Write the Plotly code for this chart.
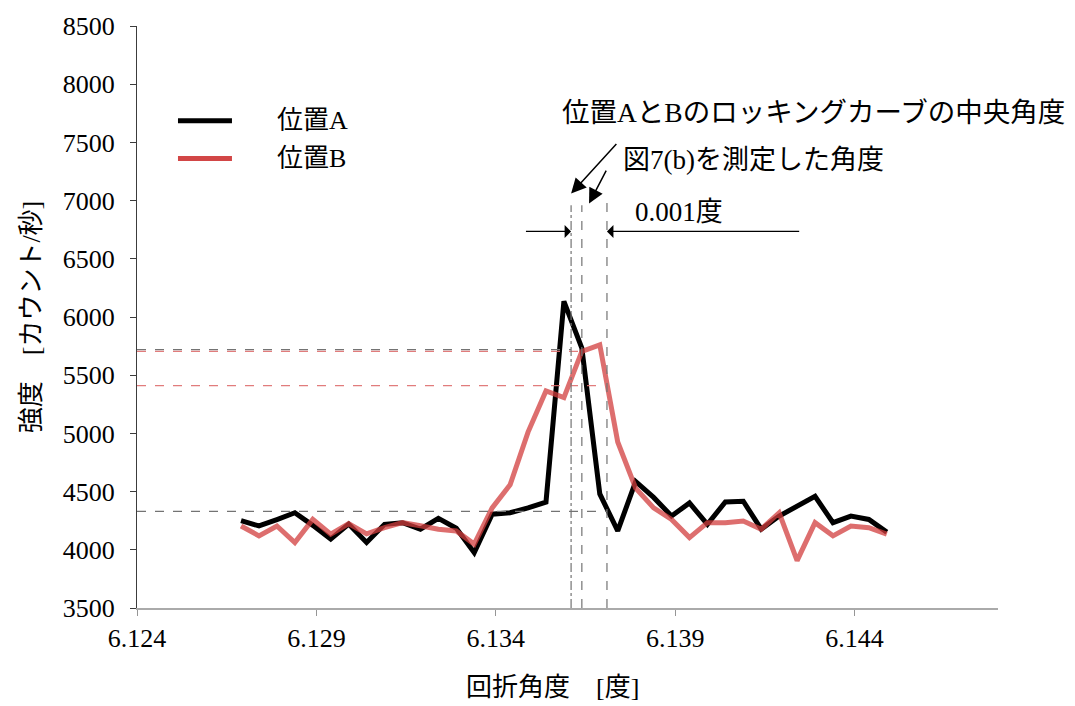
import plotly.graph_objects as go

# Diffraction angle (deg) of each measurement step
angles = [6.1269, 6.1274, 6.1279, 6.1284, 6.1289, 6.1294, 6.1299, 6.1304, 6.1309,
          6.1314, 6.1319, 6.1324, 6.1329, 6.1334, 6.1339, 6.1344, 6.1349, 6.1354,
          6.1359, 6.1364, 6.1369, 6.1374, 6.1379, 6.1384, 6.1389, 6.1394, 6.1399,
          6.1404, 6.1409, 6.1414, 6.1419, 6.1424, 6.1429, 6.1434, 6.1439, 6.1444,
          6.1449]

# Intensity (counts/s) at position A and position B
intensity_a = [4250, 4205, 4260, 4318, 4210, 4092, 4221, 4063, 4219, 4233, 4177, 4270,
               4185, 3975, 4306, 4318, 4360, 4410, 6135, 5733, 4480, 4162, 4587, 4450,
               4290, 4402, 4219, 4411, 4417, 4177, 4290, 4370, 4459, 4233, 4290, 4261,
               4152]
intensity_b = [4205, 4120, 4205, 4063, 4261, 4134, 4225, 4137, 4190, 4233, 4207, 4177,
               4162, 4049, 4360, 4559, 5011, 5365, 5308, 5705, 5761, 4926, 4530, 4360,
               4261, 4105, 4233, 4233, 4247, 4177, 4318, 3907, 4233, 4120, 4205, 4190,
               4134]

series_names = ["位置A", "位置B"]

# Reference angles: centre of the rocking curves and the measured angle
center_angle = 6.1361
measured_angle = 6.1364
offset_angle = 6.1371

# Reference intensity levels
level_a_high = 5720
level_b_high = 5705
level_b_half = 5410
level_base = 4330

x_ticks = [6.124, 6.129, 6.134, 6.139, 6.144]
y_ticks = [3500, 4000, 4500, 5000, 5500, 6000, 6500, 7000, 7500, 8000, 8500]

BLACK = "rgb(0,0,0)"
RED = "rgba(210,62,62,0.75)"
GRAY_DASH = "rgb(115,115,115)"
RED_DASH = "rgba(222,110,110,0.9)"
FONT = "'Liberation Serif', 'Times New Roman', 'Noto Sans CJK JP', serif"

fig = go.Figure()
fig.add_trace(go.Scatter(x=angles, y=intensity_a, mode="lines", name=series_names[0],
                         line=dict(color=BLACK, width=5), showlegend=False))
fig.add_trace(go.Scatter(x=angles, y=intensity_b, mode="lines", name=series_names[1],
                         line=dict(color=RED, width=5), showlegend=False))

x0 = 6.124
shapes = [
    # horizontal reference levels
    dict(type="line", xref="x", yref="y", x0=x0, x1=center_angle, y0=level_a_high, y1=level_a_high,
         line=dict(color=GRAY_DASH, width=1.3, dash="dash")),
    dict(type="line", xref="x", yref="y", x0=x0, x1=measured_angle, y0=level_b_high, y1=level_b_high,
         line=dict(color=RED_DASH, width=1.3, dash="dash")),
    dict(type="line", xref="x", yref="y", x0=x0, x1=offset_angle, y0=level_b_half, y1=level_b_half,
         line=dict(color=RED_DASH, width=1.3, dash="dash")),
    dict(type="line", xref="x", yref="y", x0=x0, x1=offset_angle, y0=level_base, y1=level_base,
         line=dict(color=GRAY_DASH, width=1.3, dash="dash")),
    # vertical reference angles
    dict(type="line", xref="x", yref="y", x0=center_angle, x1=center_angle, y0=3500, y1=6960,
         line=dict(color=GRAY_DASH, width=1.2, dash="dashdot")),
    dict(type="line", xref="x", yref="y", x0=measured_angle, x1=measured_angle, y0=3500, y1=6960,
         line=dict(color=GRAY_DASH, width=1.2, dash="dash")),
    dict(type="line", xref="x", yref="y", x0=offset_angle, x1=offset_angle, y0=3500, y1=6990,
         line=dict(color=GRAY_DASH, width=1.2, dash="dash")),
    # legend keys
    dict(type="line", xref="paper", yref="paper", x0=0.0476, x1=0.1103, y0=0.8370, y1=0.8370,
         line=dict(color=BLACK, width=5)),
    dict(type="line", xref="paper", yref="paper", x0=0.0476, x1=0.1103, y0=0.7725, y1=0.7725,
         line=dict(color="rgb(210,70,70)", width=5)),
]

annotations = [
    dict(xref="paper", yref="paper", x=0.1603, y=0.8370, text=series_names[0], showarrow=False,
         xanchor="left", yanchor="middle", font=dict(family=FONT, size=26, color="black")),
    dict(xref="paper", yref="paper", x=0.1603, y=0.7725, text=series_names[1], showarrow=False,
         xanchor="left", yanchor="middle", font=dict(family=FONT, size=26, color="black")),
    dict(xref="x", yref="y", x=6.1358, y=7760, text="位置AとBのロッキングカーブの中央角度",
         showarrow=False, xanchor="left", yanchor="middle",
         font=dict(family=FONT, size=27.5, color="black")),
    dict(xref="x", yref="y", x=6.1375, y=7350, text="図7(b)を測定した角度",
         showarrow=False, xanchor="left", yanchor="middle",
         font=dict(family=FONT, size=27, color="black")),
    dict(xref="x", yref="y", x=6.1391, y=6904, text="0.001度",
         showarrow=False, xanchor="center", yanchor="middle",
         font=dict(family=FONT, size=27, color="black")),
    # pointer arrows
    dict(xref="x", yref="y", axref="x", ayref="y", x=center_angle, y=7060, ax=6.1374, ay=7500,
         text="", showarrow=True, arrowhead=2, arrowsize=2, arrowwidth=1.5, arrowcolor="black"),
    dict(xref="x", yref="y", axref="x", ayref="y", x=6.1366, y=6975, ax=6.1371, ay=7270,
         text="", showarrow=True, arrowhead=2, arrowsize=2, arrowwidth=1.5, arrowcolor="black"),
    # 0.001 degree span arrows
    dict(xref="x", yref="y", axref="x", ayref="y", x=center_angle, y=6735, ax=6.1348, ay=6735,
         text="", showarrow=True, arrowhead=1, arrowsize=1.8, arrowwidth=1.2, arrowcolor="black"),
    dict(xref="x", yref="y", axref="x", ayref="y", x=offset_angle, y=6735, ax=6.1425, ay=6735,
         text="", showarrow=True, arrowhead=1, arrowsize=1.8, arrowwidth=1.2, arrowcolor="black"),
    # horizontal axis title
    dict(xref="paper", yref="paper", x=0.482, y=-0.136, text="回折角度　[度]", showarrow=False,
         xanchor="center", yanchor="middle", font=dict(family=FONT, size=26, color="black")),
]

fig.update_layout(
    width=1075, height=706,
    margin=dict(l=137, r=77, t=19, b=98),
    paper_bgcolor="white", plot_bgcolor="white",
    font=dict(family=FONT, size=25, color="black"),
    shapes=shapes, annotations=annotations,
    showlegend=False,
)
fig.update_xaxes(
    range=[6.124, 6.148], tickvals=x_ticks, ticktext=[f"{v:.3f}" for v in x_ticks],
    showgrid=False, zeroline=False, showline=True, linecolor="rgb(170,170,170)", linewidth=1.5,
    ticks="outside", ticklen=6, tickcolor="rgb(150,150,150)",
    tickfont=dict(family=FONT, size=26),
)
fig.update_yaxes(
    range=[3500, 8500], tickvals=y_ticks,
    showgrid=False, zeroline=False, showline=True, linecolor="rgb(60,60,60)", linewidth=1,
    ticks="outside", ticklen=6, tickcolor="rgb(60,60,60)",
    tickfont=dict(family=FONT, size=26), ticklabelstandoff=10,
    title=dict(text="強度　[カウント/秒]", font=dict(family=FONT, size=26), standoff=14),
)

fig.write_html("out.html")
